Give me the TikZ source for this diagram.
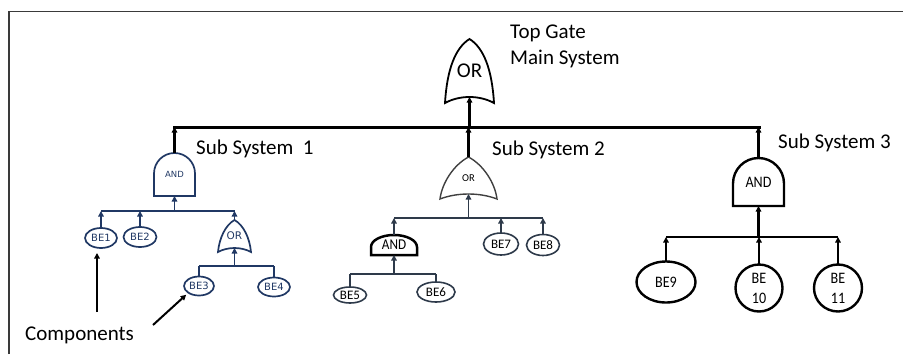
\documentclass[tikz,border=0pt]{standalone}
\usepackage{fontspec}
\setmainfont{Carlito}
\newfontfamily\widefont{DejaVu Sans}
\newfontfamily\narrowfont[FakeStretch=0.88]{Carlito}
\usetikzlibrary{arrows.meta,shapes.geometric,calc}

\definecolor{navy}{HTML}{203864}
\definecolor{slate}{HTML}{2E3A4A}
\definecolor{framegray}{HTML}{3A3A3A}
\definecolor{orgray}{HTML}{404040}

\tikzset{
  gate/.style={inner sep=0pt, outer sep=0pt},
  be/.style={ellipse, draw, inner sep=0pt, outer sep=0pt, align=center},
  upar/.style={-{Triangle[length=5.5pt,width=5.5pt]}},
  lbl/.style={font=\fontsize{21}{24}\selectfont, anchor=west, inner sep=0pt},
}

% AND gate outline: flat base, straight sides, rounded top
% #1 style, #2 node, #3 straight side length, #4 arc radii
\newcommand\andoutline[4][]{%
  \draw[#1] (#2.south west) -- ++(0,-#3) arc[start angle=180,end angle=0,#4]
    -- (#2.south east) -- cycle;}

% OR gate outline: pointed top, curved sides, concave base
% #1 style, #2 node, #3/#4 first control offset from the base corner,
% #5/#6 second control offset from the tip, #7 depth of the concave base
\newcommand\oroutline[7][]{%
  \draw[#1] (#2.south west)
    .. controls ($(#2.south west)+(#3,-#4)$) and ($(#2.north)+(-#5,#6)$) .. (#2.north)
    .. controls ($(#2.north)+(#5,#6)$) and ($(#2.south east)+(-#3,-#4)$) .. (#2.south east)
    .. controls ($(#2.south east)!0.3!(#2.south west)+(0,-1.333*#7)$)
       and ($(#2.south west)!0.3!(#2.south east)+(0,-1.333*#7)$) .. (#2.south west) -- cycle;
  \coordinate (#2-in) at ($(#2.south)+(0,-#7)$);}

\begin{document}
\begin{tikzpicture}[x=1pt, y=-1pt]
\useasboundingbox (0,0) rectangle (903,354);

% outer frame
\draw[framegray, line width=1.8pt] (9,354) -- (9,11.5) -- (903,11.5);

% ---------- top gate ----------
\node[gate, minimum width=49pt, minimum height=64pt, font=\fontsize{21}{21}\selectfont] (topor) at (469.5,71) {\raisebox{-2pt}{OR}};
\oroutline[line width=1.8pt]{topor}{2}{33}{14.5}{9}{6}
\node[lbl] (toplbl) at (510,33) {Top Gate};
\node[lbl] (mainlbl) at (510,59) {Main System};

\coordinate (busL) at (173,127);
\coordinate (busR) at (761,127);
\draw[line width=3pt] (busL) -- (busR);
\draw[upar, line width=2.3pt] (topor-in |- busL) -- (topor-in);

% ---------- sub system 1 ----------
\node[gate, minimum width=41pt, minimum height=43pt, font=\widefont\fontsize{8.5}{8.5}\selectfont, text=navy] (and1) at (174.5,174.5) {\raisebox{-3pt}{AND}};
\andoutline[draw=navy, line width=1.7pt]{and1}{22.5}{radius=20.5pt}
\draw[upar, line width=2.3pt] (and1.north) -- (and1.north |- busL);
\node[lbl] (sub1lbl) at (196,149) {Sub System~~1};

\tikzset{be1style/.style={be, draw=navy, line width=1.7pt, text=navy, font=\widefont\fontsize{10}{10}\selectfont}}
\node[be1style, minimum width=32pt, minimum height=20pt] (be1) at (101,238) {BE1};
\node[be1style, minimum width=33pt, minimum height=20pt] (be2) at (140,237) {BE2};
\node[be1style, minimum width=30pt, minimum height=19pt] (be3) at (199,286) {BE3};
\node[be1style, minimum width=32pt, minimum height=19pt] (be4) at (274,287) {BE4};

\node[gate, minimum width=33pt, minimum height=32pt, font=\widefont\fontsize{10.5}{10.5}\selectfont, text=navy] (or1) at (234.5,236) {OR};
\oroutline[draw=navy, line width=1.7pt]{or1}{1.3}{14}{9}{5}{4}

\coordinate (bus1) at (176,211);
\draw[navy, line width=1.8pt] (be1.north |- bus1) -- (or1.north |- bus1);
\draw[upar, navy, line width=1.8pt] (and1.south |- bus1) -- (and1.south);
\draw[upar, navy, line width=1.8pt] (be1.north) -- (be1.north |- bus1);
\draw[upar, navy, line width=1.8pt] (be2.north) -- (be2.north |- bus1);
\draw[upar, navy, line width=1.8pt] (or1.north) -- (or1.north |- bus1);

\coordinate (bus1b) at (232,266);
\draw[navy, line width=1.8pt] (be3.north |- bus1b) -- (be4.north |- bus1b);
\draw[navy, line width=1.8pt] (be3.north) -- (be3.north |- bus1b);
\draw[navy, line width=1.8pt] (be4.north) -- (be4.north |- bus1b);
\draw[upar, navy, line width=1.8pt] (or1-in |- bus1b) -- (or1-in);

% ---------- sub system 2 ----------
\node[gate, minimum width=57pt, minimum height=42pt, font=\fontsize{10.5}{10.5}\selectfont] (or2) at (468.5,178) {OR};
\oroutline[draw=orgray, line width=1.4pt]{or2}{2}{16}{15}{8}{5}
\draw[upar, line width=2.3pt] (or2.north) -- (or2.north |- busL);
\node[lbl] (sub2lbl) at (492,150) {Sub System 2};

\node[gate, minimum width=46pt, minimum height=20pt, font=\narrowfont\fontsize{15}{15}\selectfont] (and2) at (394,245) {\raisebox{-2pt}{AND}};
\andoutline[line width=2.5pt]{and2}{8}{x radius=23pt, y radius=12pt}

\tikzset{be2style/.style={be, draw=slate, line width=1.6pt, font=\fontsize{13}{13}\selectfont}}
\node[be2style, minimum width=33pt, minimum height=16pt] (be5) at (350,295) {BE5};
\node[be2style, minimum width=38pt, minimum height=20pt] (be6) at (436,292) {BE6};
\node[be2style, minimum width=35pt, minimum height=22pt] (be7) at (501,244) {BE7};
\node[be2style, minimum width=33pt, minimum height=21pt] (be8) at (543,245) {BE8};

\coordinate (bus2) at (464,218);
\draw[slate, line width=1.9pt] (and2.north |- bus2) -- (be8.north |- bus2);
\draw[upar, slate, line width=1.9pt] (or2-in |- bus2) -- (or2-in);
\draw[upar, slate, line width=1.9pt] (and2.north) -- (and2.north |- bus2);
\draw[upar, slate, line width=1.9pt] (be7.north) -- (be7.north |- bus2);
\draw[upar, slate, line width=1.9pt] (be8.north) -- (be8.north |- bus2);

\coordinate (bus2b) at (399,274);
\draw[slate, line width=1.9pt] (be5.north |- bus2b) -- (be6.north |- bus2b);
\draw[slate, line width=1.9pt] (be5.north) -- (be5.north |- bus2b);
\draw[slate, line width=1.9pt] (be6.north) -- (be6.north |- bus2b);
\draw[upar, slate, line width=1.9pt] (and2.south |- bus2b) -- (and2.south);

% ---------- sub system 3 ----------
\node[gate, minimum width=51pt, minimum height=48pt, font=\narrowfont\fontsize{16}{16}\selectfont] (and3) at (758.5,182) {\raisebox{-3pt}{AND}};
\andoutline[line width=2.4pt]{and3}{22.5}{radius=25.5pt}
\draw[upar, line width=2.3pt] (and3.north) -- (and3.north |- busL);
\node[lbl] (sub3lbl) at (778,143) {Sub System 3};

\tikzset{be3style/.style={be, line width=2.4pt, font=\narrowfont\fontsize{16}{20}\selectfont}}
\node[be3style, minimum width=59pt, minimum height=41pt] (be9) at (666,282) {BE9};
\node[be3style, minimum width=47pt, minimum height=47pt] (be10) at (759,288) {BE\\10};
\node[be3style, minimum width=48pt, minimum height=47pt] (be11) at (838,288) {BE\\11};

\coordinate (bus3) at (759,237);
\draw[line width=2.5pt] (be9.north |- bus3) -- (be11.north |- bus3);
\draw[upar, line width=2.3pt] (and3.south |- bus3) -- (and3.south);
\draw[upar, line width=2.3pt] (be9.north) -- (be9.north |- bus3);
\draw[upar, line width=2.3pt] (be10.north) -- (be10.north |- bus3);
\draw[upar, line width=2.3pt] (be11.north) -- (be11.north |- bus3);

% ---------- components note ----------
\node[lbl] (comp) at (25,335) {Components};
\coordinate (cmp1) at (97,312);
\coordinate (cmp2) at (153,325);
\draw[upar, line width=2pt, shorten >=5pt] (cmp1) -- (cmp1 |- be1.south);
\draw[upar, line width=2pt, shorten >=3pt] (cmp2) -- (be3.south west);
\end{tikzpicture}
\end{document}
